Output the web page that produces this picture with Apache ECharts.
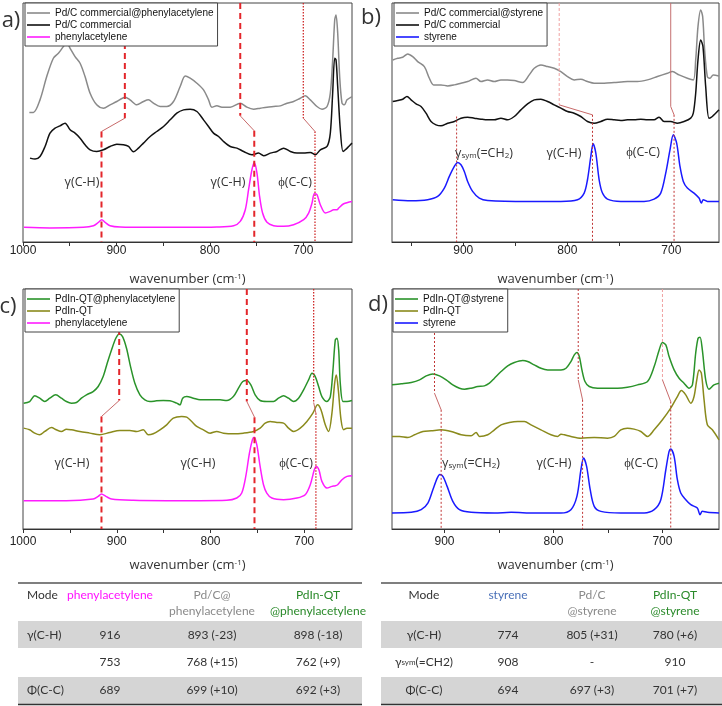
<!DOCTYPE html>
<html><head><meta charset="utf-8">
<script src="https://cdn.jsdelivr.net/npm/echarts@6/dist/echarts.min.js"></script>
<style>html,body{margin:0;padding:0;background:#fff}#c{width:722px;height:706px}</style>
</head><body><div id="c"></div>
<script>
// ---------- DATA (wavenumber cm-1, intensity a.u.) ----------
const aGrey = [[993.2,389],[988.9,389],[981.8,427],[974.6,497],[967.5,552],[962.1,567],[956.8,587],[953.2,599],[949.6,582],[944.3,557],[938.9,537],[933.6,497],[928.2,447],[921.1,412],[913.9,402],[906.8,412],[899.6,422],[890.7,435],[885.4,427],[878.2,412],[871.1,422],[865.7,427],[860.4,417],[853.2,407],[846.1,407],[838.9,422],[831.8,467],[826.4,499],[821.1,492],[813.9,477],[806.8,457],[801.4,427],[797.9,405],[792.5,409],[787.1,405],[778.2,405],[767.5,417],[760.4,405],[753.2,399],[746.1,402],[738.9,405],[731.8,407],[724.6,409],[717.5,417],[710.4,422],[703.2,432],[697.9,439],[692.5,427],[685.4,407],[680,399],[674.6,407],[671.1,447],[668.6,547],[666.4,667],[665,682],[663.2,627],[661.1,497],[658.6,417],[656.1,412],[653.2,427],[647.9,437]];
const aBlack = [[992.5,252],[987.1,249],[981.8,257],[976.4,287],[971.1,327],[965.7,342],[960.4,349],[955,357],[949.6,337],[944.3,327],[938.9,312],[933.6,292],[928.2,277],[921.1,272],[913.9,277],[906.8,287],[899.6,294],[892.5,292],[887.1,287],[881.8,271],[876.4,282],[871.1,297],[863.9,317],[856.8,332],[849.6,347],[842.5,367],[835.4,387],[828.2,397],[821.1,399],[813.9,392],[806.8,367],[801.4,347],[796.1,327],[790.7,317],[785.4,302],[778.2,287],[771.1,282],[763.9,272],[755,262],[747.9,267],[742.5,259],[735.4,267],[728.2,272],[721.1,282],[713.9,272],[706.8,267],[699.6,267],[692.5,269],[687.1,262],[681.8,277],[674.6,287],[671.1,327],[668.6,447],[666.4,552],[665,547],[663.2,467],[660.4,337],[657.5,272],[655,277],[651.4,287],[647.9,297]];
const aPhenyl = [[998.9,44],[971.1,42],[935.4,44],[924.6,49],[919.3,59],[915.7,67],[912.1,59],[906.8,49],[896.1,45],[863.9,44],[828.2,44],[792.5,45],[774.6,49],[767.5,62],[762.1,97],[758.6,157],[755,217],[752.5,239],[749.6,207],[746.8,137],[743.6,87],[738.9,59],[731.8,49],[721.1,47],[710.4,52],[699.6,67],[694.3,87],[690.7,117],[688.2,145],[685.4,142],[681.8,112],[676.4,87],[671.1,92],[667.5,97],[663.9,97],[662.1,102],[656.8,115],[647.9,122]];

const bGrey = [[967.8,547],[963,552],[958.2,555],[953.4,565],[948.6,557],[943.8,542],[937.4,527],[932.6,492],[928.5,472],[921.4,472],[915,469],[908.6,472],[902.2,477],[895.8,482],[887.8,492],[883,482],[876.6,487],[870.2,482],[863.8,487],[857.4,487],[851,485],[843,479],[836.6,502],[831.8,522],[825.4,532],[819,527],[812.6,522],[806.2,512],[799.8,497],[793.4,487],[787,489],[780.6,482],[774.2,477],[764.6,477],[755,479],[742.2,482],[732.6,482],[723,487],[713.4,497],[703.8,507],[699,512],[692.6,502],[684.6,492],[678.9,487],[676.6,547],[674.4,647],[671.8,697],[669.9,677],[668,577],[665.4,497],[662.9,492],[659.7,502],[654.2,499]];
const bBlack = [[967.8,422],[963,425],[958.2,429],[954.1,437],[950.2,427],[945.4,415],[940.6,407],[935.8,387],[931,362],[926.2,352],[921.4,349],[915,357],[908.6,362],[902.2,372],[895.8,375],[889.4,372],[883,369],[876.6,367],[870.2,367],[863.8,372],[857.4,367],[851,377],[844.6,397],[838.2,415],[831.8,427],[825.4,429],[819,422],[812.6,412],[806.2,402],[799.8,392],[793.4,387],[787,377],[780.6,362],[774.2,357],[767.8,362],[761.4,369],[755,367],[748.6,365],[742.2,367],[735.8,367],[729.4,369],[723,367],[716.6,367],[711.8,375],[707,362],[700.6,362],[694.2,357],[687.8,362],[681.4,372],[678.9,387],[676.6,447],[674.4,547],[671.8,607],[669.6,587],[667,467],[663.8,372],[660.6,377],[654.2,397]];
const bStyrene = [[967.8,127],[950.2,124],[934.2,127],[924.6,137],[918.2,162],[913.4,197],[908.6,227],[905.4,239],[902.2,232],[899,212],[895.8,182],[891,152],[884.6,132],[876.6,125],[838.2,122],[806.2,122],[790.2,127],[783.8,147],[780.6,187],[777.4,257],[775.2,295],[772.6,267],[769.4,187],[766.2,147],[761.4,129],[748.6,122],[726.2,122],[716.6,129],[710.2,147],[705.4,207],[701.3,277],[698.1,322],[694.9,297],[691.7,227],[688.5,182],[684.6,162],[678.2,147],[673.4,132],[671.2,117],[669.3,127],[665.4,122],[654.2,122]];

const cGreen = [[999.3,378],[992.9,383],[987.5,400],[982.2,393],[976.8,383],[971.5,393],[965.1,403],[959,393],[953.7,383],[948.3,378],[943,380],[937.7,393],[932.3,403],[925.2,413],[919.8,428],[914.5,458],[910.2,498],[905.6,538],[901,573],[897.4,586],[893.8,578],[889.6,543],[885.3,488],[880.7,438],[875.3,403],[870,388],[864.6,383],[857.5,385],[850.4,386],[843.3,385],[836.1,378],[832.6,373],[829.7,393],[825.4,398],[818.3,393],[811.2,388],[804.1,388],[796.9,388],[789.8,388],[782.7,386],[775.6,398],[770.2,423],[765.6,443],[761.3,446],[757,433],[752.4,403],[747.1,386],[740,383],[732.8,383],[727.5,393],[722.1,400],[716.8,393],[711.4,383],[706.1,393],[700.7,418],[695.4,448],[691.8,468],[688.3,458],[684.7,428],[681.2,398],[675.8,383],[672.2,398],[669.4,478],[666.9,568],[665.1,573],[663.3,538],[661.6,438],[658.7,383],[654.4,383],[649.1,386]];
const cOlive = [[999.3,303],[992.9,298],[987.5,288],[982.2,283],[976.8,293],[969.7,305],[964.4,298],[959,293],[953.7,300],[948.3,298],[939.4,293],[928.7,288],[918.1,283],[907.4,290],[896.7,296],[886,296],[878.9,293],[871.7,298],[866.4,283],[861.1,286],[853.9,298],[846.8,313],[839.7,333],[830.8,338],[825.4,336],[820.1,323],[814.7,308],[807.6,298],[800.5,288],[793.4,293],[786.3,288],[775.6,286],[764.9,288],[754.2,293],[747.1,303],[741.7,318],[736.4,323],[729.2,320],[722.1,318],[716.8,303],[711.4,293],[704.3,303],[697.2,323],[690.8,348],[685.8,373],[682.2,358],[677.6,313],[674,293],[670.5,348],[667.6,438],[665.8,463],[663.7,418],[660.8,328],[658,298],[654.4,303],[649.1,303]];
const cPhenyl = [[999.3,85],[953.7,85],[925.2,90],[919.8,98],[916.3,105],[911.6,98],[905.6,90],[882.4,86],[846.8,85],[811.2,85],[782.7,86],[772,93],[766.7,108],[762.4,158],[758.5,228],[755.3,268],[753.5,276],[750.6,253],[747.1,188],[743.5,133],[740,108],[734.6,93],[722.1,88],[707.9,93],[699,103],[693.6,133],[689.3,178],[687.2,188],[684.4,178],[681.2,143],[675.8,123],[670.5,128],[666.9,130],[664.4,133],[659.8,148],[654.4,158],[649.1,160]];

const dGreen = [[948.2,433],[939.7,436],[930.5,440],[922.9,448],[916.8,460],[910.7,466],[904.6,460],[898.5,448],[892.4,433],[886.3,423],[881.7,420],[875.6,423],[869.5,428],[863.4,430],[858.8,438],[854.2,453],[848.1,473],[842,490],[835.9,500],[828.2,506],[823.7,503],[817.6,493],[811.5,483],[805.3,478],[799.2,478],[793.1,478],[788.5,483],[784,503],[780.9,523],[778.5,530],[776.3,518],[773.9,478],[771.1,443],[767.2,428],[759.5,423],[750.4,423],[741.2,423],[732.1,426],[722.9,433],[713.7,443],[707.6,488],[703,538],[700,560],[696.9,553],[693.9,518],[689.3,478],[684.7,453],[680.2,438],[675.6,423],[672.5,433],[669.5,528],[667.3,573],[665.5,576],[663.4,538],[660.3,448],[657.3,420],[652.7,433],[648.1,438]];
const dOlive = [[948.2,278],[941.2,278],[933.6,275],[927.5,283],[919.8,293],[912.2,295],[903.1,298],[893.9,293],[884.7,283],[875.6,280],[871,290],[867.9,278],[860.3,283],[854.2,298],[848.1,313],[840.5,320],[832.8,323],[826.7,323],[820.6,313],[811.5,298],[802.3,283],[796.2,278],[793.1,285],[790.1,283],[784,278],[774.8,273],[762.6,275],[750.4,273],[744.3,278],[738.2,298],[732.1,303],[726,300],[719.8,293],[713.7,278],[707.6,298],[700,328],[692.4,363],[686.3,398],[682.6,416],[678.6,403],[674,378],[671,398],[668.5,448],[666.4,478],[664.3,468],[661.8,388],[658.8,313],[654.2,298],[648.1,268]];
const dStyrene = [[948.2,48],[930.5,50],[921.4,58],[915.3,78],[910.7,118],[906.7,153],[904.3,164],[901.5,158],[897.6,128],[892.4,83],[886.3,58],[875.6,50],[854.2,48],[838.9,50],[817.6,48],[793.1,48],[784,58],[778.5,98],[774.8,178],[772.4,213],[769.6,188],[766.3,118],[762.6,68],[756.5,53],[738.2,48],[716.8,48],[707.6,58],[701.5,88],[696.9,178],[693.9,233],[692.4,240],[689.3,218],[686.3,148],[683.2,108],[678.6,88],[674,73],[668,63],[665.5,43],[663.4,53],[658.8,50],[648.1,48]];

// guide lines: [upper wavenumber, lower wavenumber, intensity where upper ends, intensity where lower starts]
const guideA = [[891,916,372,332],[767.5,752.5,379,334],[700,687.5,372,332]];
const guideB = [[null,906.4,null,377],[807.8,775.8,412,382],[700.6,697.4,407,382]];
const guideC = [[897.4,916.3,386,338],[761.3,753.1,383,336],[690,687.6,380,348]];
const guideD = [[909.2,903.1,408,358],[777.3,773.3,448,388],[700,692.4,448,383]];

const xTicks = [700,750,800,850,900,950,1000];
const xLabels = [700,800,900,1000];

const legendA = ['Pd/C commercial@phenylacetylene','Pd/C commercial','phenylacetylene'];
const legendB = ['Pd/C commercial@styrene','Pd/C commercial','styrene'];
const legendC = ['PdIn-QT@phenylacetylene','PdIn-QT','phenylacetylene'];
const legendD = ['PdIn-QT@styrene','PdIn-QT','styrene'];

const tableLeftHead1 = ['Mode','phenylacetylene','Pd/C@','PdIn-QT'];
const tableLeftHead2 = ['','','phenylacetylene','@phenylacetylene'];
const tableLeftRows = [['γ(C-H)','916','893 (-23)','898 (-18)'],['','753','768 (+15)','762 (+9)'],['Φ(C-C)','689','699 (+10)','692 (+3)']];
const tableRightHead1 = ['Mode','styrene','Pd/C','PdIn-QT'];
const tableRightHead2 = ['','','@styrene','@styrene'];
const tableRightRows = [['γ(C-H)','774','805 (+31)','780 (+6)'],['{t|γ}{s|sym}{t|(=CH2)}','908','-','910'],['Φ(C-C)','694','697 (+3)','701 (+7)']];

// ---------- STYLE / LAYOUT ----------
const C = {grey:'#8a8a8a', black:'#111111', mag:'#ff1cff', blue:'#1a1aff', green:'#2a932a', olive:'#8a8a1c'};
const DASH = {color:'#e3262b', width:2, type:[6,4]};
const DOT = {color:'#cf2a2a', width:1.3, type:[1.5,1.5]};
const TDOT = {color:'#c03535', width:1, type:[2,2]};
const LDOT = {color:'#f0a0a0', width:1, type:[3,2]};
const THIN = {color:'#c47070', width:1, type:'solid'};
const CONN = {color:'#c86a6a', width:1, type:'solid'};

const grids = [
  {left:23, top:3, width:329, height:239},
  {left:392, top:3, width:327, height:239},
  {left:23, top:289, width:329, height:240},
  {left:392, top:289, width:327, height:240}
];
const xr = [[647.9,1000],[654.2,968.5],[649.1,1000],[648.1,948.2]];
const ymax = [718,718,721,721];

function xAxis(i){
  const top = i<2;
  return {gridIndex:i, type:'value', inverse:true, min:xr[i][0], max:xr[i][1],
    axisLine:{onZero:false, lineStyle:{color:'#333'}}, splitLine:{show:false},
    axisTick:{customValues:xTicks, length:4, lineStyle:{color:'#333'}},
    axisLabel:{customValues:xLabels, formatter:v=>String(v), margin: top?3:7, fontSize:12, color:'#222', fontFamily:'Liberation Sans'},
    name:'{n|wavenumber (cm}{s|-1}{n|)}', nameLocation:'middle', nameGap: top?31:30,
    nameTextStyle:{rich:{n:{fontSize:13, color:'#333', fontFamily:'Open Sans'}, s:{fontSize:8, color:'#333', verticalAlign:'top', fontFamily:'Open Sans'}}}
  };
}
function spec(name, data, gi, color){
  return {type:'line', name, data, xAxisIndex:gi, yAxisIndex:gi, symbol:'none', smooth:0.3,
    lineStyle:{color, width:1.5}, itemStyle:{color}, z:2, silent:true};
}
function guides(list, gi, upSt, lowSt){
  const out = [];
  list.forEach((g, k) => {
    const [w1, w2, y1, y2] = g;
    const base = {type:'line', xAxisIndex:gi, yAxisIndex:gi, symbol:'none', silent:true, z:3};
    if (w1 !== null && upSt[k]) {
      out.push(Object.assign({}, base, {data:[[w1, ymax[gi]],[w1, y1]], lineStyle:upSt[k]}));
      out.push(Object.assign({}, base, {data:[[w1, y1],[w2, y2]], lineStyle:CONN}));
    }
    out.push(Object.assign({}, base, {data:[[w2, y2],[w2, 0]], lineStyle:lowSt[k]}));
  });
  return out;
}
function legend(data, left, top){
  return {data, left, top, orient:'vertical', icon:'rect', itemWidth:23, itemHeight:1.6, itemGap:0,
    padding:[4,4,3,2], borderColor:'#444', borderWidth:1, backgroundColor:'#fff', borderRadius:0,
    selectedMode:false,
    textStyle:{fontSize:10, lineHeight:12, color:'#111', fontFamily:'Liberation Sans'}};
}

const series = [
  spec('Pd/C commercial@phenylacetylene', aGrey, 0, C.grey),
  spec('Pd/C commercial', aBlack, 0, C.black),
  spec('phenylacetylene', aPhenyl, 0, C.mag),
  spec('Pd/C commercial@styrene', bGrey, 1, C.grey),
  spec('Pd/C commercial', bBlack, 1, C.black),
  spec('styrene', bStyrene, 1, C.blue),
  spec('PdIn-QT@phenylacetylene', cGreen, 2, C.green),
  spec('PdIn-QT', cOlive, 2, C.olive),
  spec('phenylacetylene', cPhenyl, 2, C.mag),
  spec('PdIn-QT@styrene', dGreen, 3, C.green),
  spec('PdIn-QT', dOlive, 3, C.olive),
  spec('styrene', dStyrene, 3, C.blue),
  ...guides(guideA, 0, [DASH,DASH,DOT], [DASH,DASH,DOT]),
  ...guides(guideB, 1, [null,LDOT,THIN], [TDOT,TDOT,TDOT]),
  ...guides(guideC, 2, [DASH,DASH,DOT], [DASH,DASH,DOT]),
  ...guides(guideD, 3, [TDOT,TDOT,LDOT], [TDOT,TDOT,TDOT])
];

// ---------- GRAPHIC: labels and tables ----------
const g = [];
const FONT = 'Open Sans';
function txt(x, y, text, opt){
  opt = opt || {};
  g.push({type:'text', x, y, z:100, silent:true, style:Object.assign({text, fill:'#333', font: (opt.size||12.5)+'px "'+(opt.family||FONT)+'"', align:opt.align||'center', verticalAlign:'middle'}, opt.rich?{rich:opt.rich}:{} , opt.fill?{fill:opt.fill}:{})});
}
const symRich = {t:{fontSize:12.5, fontFamily:FONT, fill:'#333'}, s:{fontSize:8, fontFamily:FONT, fill:'#333', verticalAlign:'bottom', padding:[4,0,0,0]}};
txt(11, 21, 'a)', {size:22}); txt(371, 18, 'b)', {size:22});
txt(8, 307, 'c)', {size:22}); txt(378, 305, 'd)', {size:22});
// panel annotations
txt(82, 182, 'γ(C-H)'); txt(228, 182, 'γ(C-H)'); txt(295, 182, 'ϕ(C-C)');
txt(484, 153, '{t|γ}{s|sym}{t|(=CH}{s|2}{t|)}', {rich:symRich}); txt(564, 153, 'γ(C-H)'); txt(643, 152, 'ϕ(C-C)');
txt(72, 463, 'γ(C-H)'); txt(198, 463, 'γ(C-H)'); txt(296, 463, 'ϕ(C-C)');
txt(471, 463, '{t|γ}{s|sym}{t|(=CH}{s|2}{t|)}', {rich:symRich}); txt(554, 463, 'γ(C-H)'); txt(641, 463, 'ϕ(C-C)');

// tables
const TF = 'Lato';
function table(x0, x1, colX, firstAlign, head1, head2, headColors, rows){
  g.push({type:'rect', shape:{x:x0, y:621, width:x1-x0, height:27}, style:{fill:'#d5d5d5'}, silent:true, z:90});
  g.push({type:'rect', shape:{x:x0, y:677, width:x1-x0, height:27}, style:{fill:'#d5d5d5'}, silent:true, z:90});
  g.push({type:'line', shape:{x1:x0, y1:583, x2:x1, y2:583}, style:{stroke:'#555', lineWidth:1.5}, silent:true, z:90});
  g.push({type:'line', shape:{x1:x0, y1:704.5, x2:x1, y2:704.5}, style:{stroke:'#333', lineWidth:1.5}, silent:true, z:90});
  head1.forEach((t,i)=>{ if(t) txt(colX[i], 595, t, {size:12, family:TF, fill:headColors[i], align: i===0?firstAlign:'center'}); });
  head2.forEach((t,i)=>{ if(t) txt(colX[i], 611, t, {size:12, family:TF, fill:headColors[i]}); });
  const ys = [635, 662, 690];
  rows.forEach((r,ri)=> r.forEach((t,i)=>{
    if(!t) return;
    if (t.indexOf('{')===0) txt(colX[i], ys[ri], t, {rich:{t:{fontSize:12, fontFamily:TF, fill:'#333'}, s:{fontSize:8, fontFamily:TF, fill:'#333'}}});
    else txt(colX[i], ys[ri], t, {size:12, family:TF, align: i===0?firstAlign:'center'});
  }));
}
table(18, 362, [27,110,212,318], 'left', tableLeftHead1, tableLeftHead2, ['#333','#ff10ff','#8a8a8a','#2a8a2a'], tableLeftRows);
table(381, 722, [424,508,592,675], 'center', tableRightHead1, tableRightHead2, ['#333','#4a70b8','#8a8a8a','#2a8a2a'], tableRightRows);

const chart = echarts.init(document.getElementById('c'), null, {renderer:'canvas'});
chart.setOption({
  animation:false,
  backgroundColor:'#fff',
  grid: grids.map(gr => Object.assign({show:true, borderColor:'#444', borderWidth:1, backgroundColor:'transparent'}, gr)),
  xAxis: [0,1,2,3].map(xAxis),
  yAxis: [0,1,2,3].map(i => ({gridIndex:i, type:'value', min:0, max:ymax[i], show:false})),
  legend: [legend(legendA, 25, 3), legend(legendB, 394, 3), legend(legendC, 25, 289), legend(legendD, 393, 289)],
  series,
  graphic: g
});
</script></body></html>
